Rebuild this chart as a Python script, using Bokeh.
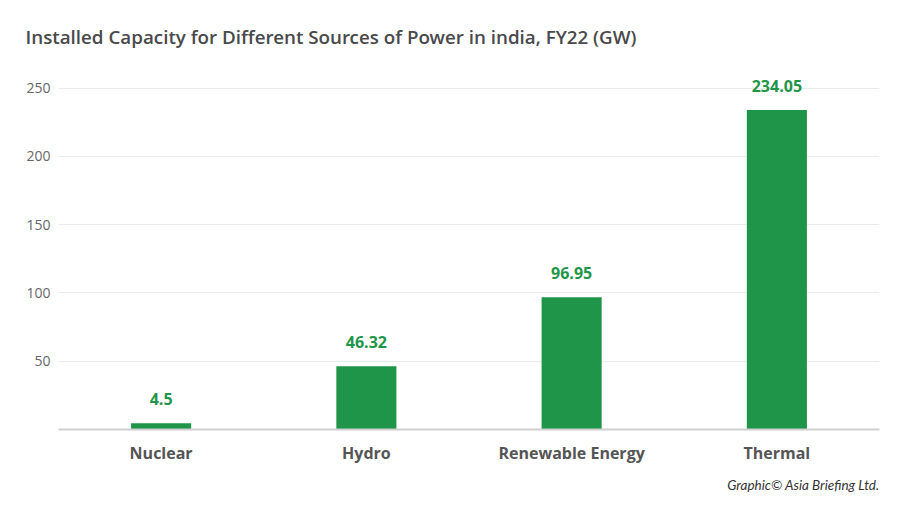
from bokeh.plotting import figure
from bokeh.models import ColumnDataSource, FactorRange, Range1d, FixedTicker, Title
from bokeh.core.properties import value
from bokeh.embed import file_html
from bokeh.resources import INLINE

categories = ["Nuclear", "Hydro", "Renewable Energy", "Thermal"]
capacity_gw = [4.5, 46.32, 96.95, 234.05]
labels = ["4.5", "46.32", "96.95", "234.05"]
y_ticks = [50, 100, 150, 200, 250]

GREEN = "#1f9549"
FONT = "Open Sans"

src = ColumnDataSource(dict(cat=categories, val=capacity_gw, lab=labels))

p = figure(
    width=884, height=500,
    x_range=FactorRange(*categories, range_padding=0),
    y_range=Range1d(0, 263),
    output_backend="svg", toolbar_location=None,
    min_border_left=58, min_border_right=5,
    min_border_top=70, min_border_bottom=70,
    background_fill_color="white", border_fill_color="white",
    outline_line_color=None,
)

p.title.text = "Installed Capacity for Different Sources of Power in india, FY22 (GW)"
p.title.text_font = "'Open Sans Semibold', 'Open Sans SemiBold', 'Open Sans'"
p.title.text_font_size = "18.8px"
p.title.text_font_style = "normal"
p.title.text_color = "#4a4a4c"
p.title.offset = -33
p.title.standoff = 42

p.vbar(x="cat", top="val", width=60 / 205.0, source=src, color=GREEN, line_color=None)
p.text(x="cat", y="val", text="lab", source=src, text_align="center",
       text_baseline="alphabetic", y_offset=-24, text_color=GREEN,
       text_font=value(FONT), text_font_size="16px", text_font_style="bold")

p.yaxis.ticker = FixedTicker(ticks=y_ticks)
p.yaxis.axis_line_color = None
p.yaxis.major_tick_line_color = None
p.yaxis.major_tick_out = 0
p.yaxis.major_tick_in = 0
p.yaxis.minor_tick_line_color = None
p.yaxis.major_label_text_font = FONT
p.yaxis.major_label_text_font_size = "14px"
p.yaxis.major_label_text_color = "#666666"
p.yaxis.major_label_standoff = 8

p.xaxis.axis_line_color = "#d0d0d0"
p.xaxis.axis_line_width = 2
p.xaxis.major_tick_line_color = None
p.xaxis.major_tick_out = 0
p.xaxis.major_tick_in = 0
p.xaxis.minor_tick_line_color = None
p.xaxis.major_label_text_font = FONT
p.xaxis.major_label_text_font_size = "16px"
p.xaxis.major_label_text_font_style = "bold"
p.xaxis.major_label_text_color = "#555555"
p.xaxis.major_label_standoff = 12

p.xgrid.grid_line_color = None
p.ygrid.grid_line_color = "#ebebeb"
p.ygrid.grid_line_width = 1

footer = Title(text="Graphic\u00a9 Asia Briefing Ltd.", align="right",
               text_font="Lato", text_font_size="13.5px",
               text_font_style="italic", text_color="#333333", standoff=16)
p.add_layout(footer, "below")

open("out.html", "w").write(file_html(p, INLINE))
